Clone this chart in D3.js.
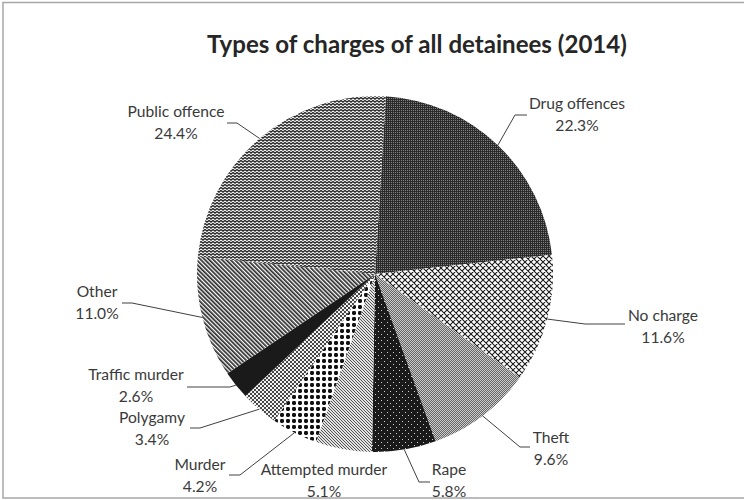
<!DOCTYPE html>
<html>
<head>
<meta charset="utf-8">
<script src="https://cdn.jsdelivr.net/npm/d3@7"></script>
<style>
  html, body { margin: 0; padding: 0; background: #fff; }
  svg { display: block; }
</style>
</head>
<body>
<svg id="chart" width="744" height="500"></svg>
<script>
// ---- data ----
const categories = ["Drug offences", "No charge", "Theft", "Rape", "Attempted murder",
                    "Murder", "Polygamy", "Traffic murder", "Other", "Public offence"];
const values = [22.3, 11.6, 9.6, 5.8, 5.1, 4.2, 3.4, 2.6, 11.0, 24.4];
const valueLabels = ["22.3%", "11.6%", "9.6%", "5.8%", "5.1%", "4.2%", "3.4%", "2.6%", "11.0%", "24.4%"];
const titleText = "Types of charges of all detainees (2014)";

// ---- layout (positions of data labels and leader elbows) ----
const labelLayout = [
  { tx: 577, ty: 109, pts: [[515, 115], [527, 115]] },
  { tx: 663, ty: 321, pts: [[585, 324], [625, 324]] },
  { tx: 551, ty: 443, pts: [[520, 447], [530, 447]] },
  { tx: 449, ty: 475, pts: [[419, 482], [430, 482]] },
  { tx: 324, ty: 475, pts: null },
  { tx: 200, ty: 470, pts: [[240, 475], [229, 475]] },
  { tx: 152, ty: 423, pts: [[200, 428], [190, 428]] },
  { tx: 136, ty: 380, pts: [[230, 387], [187, 387]] },
  { tx: 97,  ty: 297, pts: [[132, 303], [122, 303]] },
  { tx: 176, ty: 117, pts: [[237, 123], [227, 123]] }
];

const W = 744, H = 500;
const cx = 375, cy = 274, R = 178;
const startDeg = 3.5;

const svg = d3.select("#chart");
const defs = svg.append("defs");

// ---- fill patterns (one per slice) ----
function pat(id, w, h, bg, draw, transform) {
  const p = defs.append("pattern").attr("id", id).attr("patternUnits", "userSpaceOnUse")
    .attr("width", w).attr("height", h);
  if (transform) p.attr("patternTransform", transform);
  p.append("rect").attr("width", w).attr("height", h).attr("fill", bg);
  draw(p);
  return `url(#${id})`;
}
const fills = [
  // Drug offences: dark with light dots
  pat("p0", 2, 2, "#2b2b2b", p => p.append("rect").attr("width", 1).attr("height", 1).attr("fill", "#808080")),
  // No charge: white lattice
  pat("p1", 6, 6, "#ffffff", p => p.append("path").attr("d", "M0,0 L6,6 M6,0 L0,6 M-1,5 L1,7 M5,-1 L7,1 M-1,1 L1,-1 M5,7 L7,5")
      .attr("stroke", "#1a1a1a").attr("stroke-width", 1.1).attr("fill", "none")),
  // Theft: medium gray checker
  pat("p2", 2, 2, "#cccccc", p => {
      p.append("rect").attr("width", 1).attr("height", 1).attr("fill", "#656565");
      p.append("rect").attr("x", 1).attr("y", 1).attr("width", 1).attr("height", 1).attr("fill", "#656565");
  }),
  // Rape: black with white dots
  pat("p3", 6, 6, "#1a1a1a", p => {
      p.append("rect").attr("width", 1).attr("height", 1).attr("fill", "#cfcfcf");
      p.append("rect").attr("x", 3).attr("y", 3).attr("width", 1).attr("height", 1).attr("fill", "#cfcfcf");
  }),
  // Attempted murder: light gray fine diagonal
  pat("p4", 3, 3, "#e2e2e2", p => {
      [[0, 0], [1, 1], [2, 2]].forEach(([x, y]) => p.append("rect").attr("x", x).attr("y", y)
        .attr("width", 1).attr("height", 1).attr("fill", "#555"));
  }),
  // Murder: large black dots (checker-like)
  pat("p5", 6, 6, "#ffffff", p => p.append("rect").attr("x", 1).attr("y", 1).attr("width", 4).attr("height", 4)
      .attr("rx", 1.4).attr("fill", "#111")),
  // Polygamy: small weave
  pat("p6", 4, 4, "#f2f2f2", p => p.append("path").attr("d", "M0,0 L4,4 M4,0 L0,4")
      .attr("stroke", "#333").attr("stroke-width", 0.9).attr("fill", "none")),
  // Traffic murder: solid black
  "#1a1a1a",
  // Other: dark diagonal stripes
  pat("p8", 3, 3, "#ffffff", p => p.append("rect").attr("width", 1.7).attr("height", 3).attr("fill", "#2a2a2a"),
      "rotate(-45)"),
  // Public offence: horizontal zigzag
  pat("p9", 4, 3, "#f4f4f4", p => p.append("path").attr("d", "M-0.5,2.5 L2,0.5 L4.5,2.5")
      .attr("stroke", "#222").attr("stroke-width", 1.25).attr("fill", "none"))
];

// ---- border ----
svg.append("rect").attr("x", 3).attr("y", 2.5).attr("width", 800).attr("height", 495.5)
  .attr("fill", "none").attr("stroke", "#a6a6a6").attr("stroke-width", 1.5);

// ---- title ----
const title = svg.append("text").attr("x", 417).attr("y", 53).attr("text-anchor", "middle")
  .attr("font-family", "Lato, 'Open Sans', sans-serif").attr("font-weight", "bold")
  .attr("font-size", 22).attr("fill", "#262626").text(titleText);
{
  const w = title.node().getComputedTextLength();
  title.attr("font-size", 22 * 420 / w);
}

// ---- pie ----
const pie = d3.pie().sort(null).value(d => d)
  .startAngle(startDeg * Math.PI / 180).endAngle(startDeg * Math.PI / 180 + 2 * Math.PI);
const arcs = pie(values);
const arc = d3.arc().innerRadius(0).outerRadius(R);
const edgeArc = d3.arc().innerRadius(R).outerRadius(R);

const g = svg.append("g").attr("transform", `translate(${cx},${cy})`);
g.selectAll("path.slice").data(arcs).join("path").attr("class", "slice")
  .attr("d", arc).attr("fill", (d, i) => fills[i]);

// ---- leader lines ----
const line = d3.line();
arcs.forEach((d, i) => {
  const L = labelLayout[i];
  if (!L.pts) return;
  const [ex, ey] = edgeArc.centroid(d);
  const pts = [[cx + ex, cy + ey], ...L.pts];
  svg.append("path").attr("d", line(pts)).attr("fill", "none")
    .attr("stroke", "#404040").attr("stroke-width", 1);
});

// ---- data labels ----
arcs.forEach((d, i) => {
  const L = labelLayout[i];
  const t = svg.append("text").attr("text-anchor", "middle")
    .attr("font-family", "Lato, 'Open Sans', sans-serif").attr("font-size", 15.6).attr("fill", "#3a3a3a");
  t.append("tspan").attr("x", L.tx).attr("y", L.ty).text(categories[i]);
  t.append("tspan").attr("x", L.tx).attr("y", L.ty + 22).text(valueLabels[i]);
});
</script>
</body>
</html>
